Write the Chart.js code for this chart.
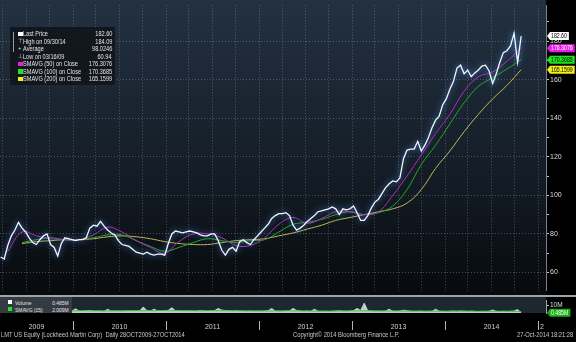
<!DOCTYPE html>
<html>
<head>
<meta charset="utf-8">
<script src="https://cdn.jsdelivr.net/npm/chart.js@4.4.1/dist/chart.umd.min.js"></script>
<style>
html, body { margin: 0; padding: 0; background: #000; }
body { width: 576px; height: 342px; position: relative; overflow: hidden;
  font-family: "Liberation Sans", Arial, sans-serif; color: #d8d8d8; }
#panel { position: absolute; left: 0; top: 0; width: 546px; height: 296px;
  background: linear-gradient(#233141, #151e28 55%, #070a0d); }
#volpanel { position: absolute; left: 0; top: 297px; width: 546px; height: 16px; background: #1d2730; }
#sep { position: absolute; left: 0; top: 295px; width: 576px; height: 2px; background: #9ea4aa; }
canvas { position: absolute; left: 0; }
#main { top: 0; }
#vol { top: 296px; }
.legend { position: absolute; background: rgba(17, 21, 27, 0.92); font-size: 7px; color: #e4e4e4; }
#leg { left: 10px; top: 27px; width: 105px; height: 58px; }
#vleg { left: 0; top: 297px; width: 72px; height: 16px; background: #353b42; font-size: 6.2px; }
.row { position: absolute; left: 0; width: 100%; height: 7.5px; line-height: 7.5px; white-space: nowrap; }
.row .k { position: absolute; left: 13px; display: inline-block; transform: scaleX(0.8); transform-origin: left center; }
.row .v { position: absolute; right: 3px; display: inline-block; transform: scaleX(0.8); transform-origin: right center; }
.sw { position: absolute; left: 8px; top: 1.5px; width: 4.5px; height: 4.5px; }
.ic { position: absolute; left: 8px; top: 0; font-size: 6px; color: #cfcfcf; }
.tree { position: absolute; left: 3px; top: 5px; width: 1px; height: 20px; background: #9a9a9a; }
#vleg .row .k { left: 15px; }
#vleg .sw { left: 8px; width: 4px; height: 4px; }
.foot { position: absolute; top: 331px; font-size: 6.5px; line-height: 8px; color: #c8c8c8; white-space: nowrap;
  transform: scaleX(0.89); transform-origin: left center; }
</style>
</head>
<body>
<div id="panel"></div>
<div id="volpanel"></div>
<div id="sep"></div>
<canvas id="main" width="576" height="296"></canvas>
<canvas id="vol" width="576" height="46"></canvas>

<div id="leg" class="legend">
  <div class="tree"></div>
  <div class="row" style="top:3.2px"><span class="sw" style="background:#ffffff"></span><span class="k">Last Price</span><span class="v" id="v-last"></span></div>
  <div class="row" style="top:10.7px"><span class="ic">&#8868;</span><span class="k">High on 09/30/14</span><span class="v" id="v-high"></span></div>
  <div class="row" style="top:18.2px"><span class="ic">+</span><span class="k">Average</span><span class="v" id="v-avg"></span></div>
  <div class="row" style="top:25.7px"><span class="ic">&#8869;</span><span class="k">Low on 03/16/09</span><span class="v" id="v-low"></span></div>
  <div class="row" style="top:33.2px"><span class="sw" style="background:#e61ee6"></span><span class="k">SMAVG (50) on Close</span><span class="v" id="v-ma50"></span></div>
  <div class="row" style="top:40.7px"><span class="sw" style="background:#1ee61e"></span><span class="k">SMAVG (100) on Close</span><span class="v" id="v-ma100"></span></div>
  <div class="row" style="top:48.2px"><span class="sw" style="background:#f0f01e"></span><span class="k">SMAVG (200) on Close</span><span class="v" id="v-ma200"></span></div>
</div>

<div id="vleg" class="legend">
  <div class="row" style="top:1.5px"><span class="sw" style="background:#ffffff"></span><span class="k">Volume</span><span class="v" id="v-vol"></span></div>
  <div class="row" style="top:8.5px"><span class="sw" style="background:#1ee61e"></span><span class="k">SMAVG (15)</span><span class="v" id="v-volma"></span></div>
</div>

<div class="foot" style="left:1px">LMT US Equity (Lockheed Martin Corp)&nbsp;&nbsp;Daily 28OCT2009-27OCT2014</div>
<div class="foot" style="left:293px">Copyright&copy; 2014 Bloomberg Finance L.P.</div>
<div class="foot" style="left:517px">27-Oct-2014 18:21:28</div>

<script>
// closes every two weeks, counting back from 27 Oct 2014
const price = [
  68, 67, 74, 79, 82, 86, 83, 81, 78, 75.5,
  74.5, 77, 79, 80, 74.5, 73, 68.5, 75, 78, 77.5,
  77, 76.5, 77, 77, 78, 83, 84.5, 84, 86.5, 84,
  82, 80.5, 79.5, 76.5, 74.5, 74, 73.5, 72, 70.5, 70,
  69.5, 70.5, 69.5, 69, 69.5, 69.5, 69, 75, 80, 81.5,
  81, 80.5, 81, 81.5, 81, 80.5, 79.5, 79, 79, 80,
  80, 76.5, 71.5, 69, 72, 73, 71, 76, 77, 75.5,
  74.5, 77, 79, 81, 83, 85, 88, 89.5, 90.5, 90.5,
  91, 89.5, 84.5, 82, 83, 84.5, 86.5, 88, 89.5, 91.5,
  92, 92.5, 93, 94, 93, 90, 93, 92.5, 93, 94.5,
  91, 87, 87, 89.5, 93.5, 96.5, 98, 101, 104, 106,
  107.5, 107, 109, 119, 123.5, 124, 124, 128, 123, 126,
  130, 135, 139, 141, 147, 150, 155, 159, 166, 167.5,
  163, 165, 161.5, 163.5, 165, 167, 167.5, 164.5, 158, 163,
  169, 174, 175, 177.5, 184.09, 169, 182.60
];

// moving averages, one reading every 8 weeks (from the 3rd close on)
const ma50 = [
  71, 81, 79, 77.5, 77, 77, 79.5, 83.5, 81, 76.5,
  73, 70, 76, 80, 80, 78, 74, 74, 78, 85,
  88.5, 85.5, 88, 91.5, 91.5, 90, 91.5, 100, 110, 121,
  132, 142, 154, 161.5, 164, 169.5, 176.3076
];
const ma100 = [
  null, 75.5, 77, 78, 77, 77, 78, 79.5, 79.5, 76.5,
  73.5, 71, 73, 75.5, 77.5, 76.5, 75.5, 76.5, 77, 81,
  85, 86, 87.5, 90, 91.5, 90, 91, 94.5, 103, 116,
  126, 137, 148, 156.5, 161, 165.5, 170.3685
];
const ma200 = [
  null, 75, 76, 76.5, 77, 77, 77.5, 78.5, 79, 78.5,
  77.5, 76, 75, 74.5, 74.5, 75.5, 76.5, 77, 77.5, 79,
  80.5, 82.5, 84.5, 87, 88.5, 90, 91.5, 93, 96, 103,
  114, 123, 133, 142, 150, 157, 165.1599
];

// volume in millions, same two-week steps as the closes
const volume = [
  3.5, 3.2, 2.8, 3.0, 2.6, 2.9, 2.7, 3.1, 2.6, 2.8,
  2.5, 2.9, 2.6, 2.4, 3.0, 2.7, 3.3, 2.5, 2.6, 2.4,
  2.8, 5.5, 2.6, 2.5, 2.9, 3.4, 2.6, 2.5, 2.7, 2.4,
  4.8, 2.6, 2.5, 2.8, 2.4, 2.6, 2.9, 2.5, 2.7, 3.0,
  8.0, 3.2, 2.7, 5.0, 2.8, 2.6, 3.1, 3.6, 7.0, 3.0,
  2.8, 2.6, 2.7, 2.9, 2.5, 2.6, 3.4, 2.7, 2.5, 2.8,
  3.2, 6.0, 3.8, 3.3, 2.9, 2.7, 3.0, 2.6, 2.5, 2.4,
  2.6, 2.3, 2.5, 2.4, 2.7, 3.1, 6.0, 2.6, 2.4, 2.3,
  2.5, 2.8, 6.0, 3.4, 2.6, 2.4, 2.5, 2.3, 5.0, 2.4,
  2.2, 2.3, 2.1, 2.4, 2.6, 2.9, 2.5, 2.3, 2.6, 3.2,
  6.0, 3.4, 13.0, 3.0, 2.6, 2.4, 2.5, 2.3, 2.6, 5.0,
  2.4, 2.2, 2.5, 3.8, 2.9, 2.4, 2.2, 2.3, 2.5, 2.1,
  2.3, 2.2, 5.0, 2.4, 2.2, 2.1, 2.4, 2.6, 2.3, 2.7,
  2.4, 2.2, 2.5, 2.1, 2.0, 2.2, 2.1, 2.3, 4.0, 2.2,
  2.0, 2.3, 2.1, 2.4, 2.6, 4.5, 0.485
];
const volumeMa = [
  2.9, 2.8, 2.8, 2.7, 2.8, 2.9, 2.8, 2.7, 2.8, 2.9,
  3.0, 3.1, 3.0, 2.8, 2.9, 3.0, 2.8, 2.7, 2.6, 2.7,
  2.8, 2.6, 2.4, 2.5, 2.7, 2.9, 2.6, 2.7, 2.5, 2.4,
  2.4, 2.3, 2.4, 2.2, 2.3, 2.2, 2.009
];

const priceTicks = [60, 70, 80, 90, 100, 110, 120, 130, 140, 150, 160, 170, 180, 190];
const years = [2009, 2010, 2011, 2012, 2013, 2014, 2015];
const yearLabels = ['2009', '2010', '2011', '2012', '2013', '2014', '2'];
const priceAverage = 98.0246;
const priceLow = 60.94;

const DAY = 864e5;
const firstClose = Date.UTC(2009, 2, 23);
const X_MIN = 2009.215, X_MAX = 2015.086;

function toYear(ms) {
  const y = new Date(ms).getUTCFullYear();
  const a = Date.UTC(y, 0, 1), b = Date.UTC(y + 1, 0, 1);
  return y + (ms - a) / (b - a);
}

const priceX = price.map((_, i) => toYear(firstClose + i * 14 * DAY));
const maX = ma50.map((_, k) => priceX[2 + 4 * k]);
const pts = (xs, ys) => ys.map((y, i) => ({ x: xs[i], y: y }));

// quarter grid and year label positions
const quarterTicks = [];
years.forEach(y => [0, 3, 6, 9].forEach(m => {
  const t = toYear(Date.UTC(y, m, 1));
  if (t > X_MIN && t < X_MAX) quarterTicks.push(t);
}));
const yearCenters = years.map(y => (Math.max(y, X_MIN) + Math.min(y + 1, X_MAX)) / 2);

const last = a => a[a.length - 1];
document.getElementById('v-last').innerText = last(price).toFixed(2);
document.getElementById('v-high').innerText = Math.max(...price).toFixed(2);
document.getElementById('v-avg').innerText = priceAverage.toFixed(4);
document.getElementById('v-low').innerText = priceLow.toFixed(2);
document.getElementById('v-ma50').innerText = last(ma50).toFixed(4);
document.getElementById('v-ma100').innerText = last(ma100).toFixed(4);
document.getElementById('v-ma200').innerText = last(ma200).toFixed(4);
document.getElementById('v-vol').innerText = last(volume).toFixed(3) + 'M';
document.getElementById('v-volma').innerText = last(volumeMa).toFixed(3) + 'M';

Chart.defaults.font.family = '"Liberation Sans", Arial, sans-serif';
const gridColor = 'rgba(150, 162, 175, 0.42)';

// blue halo around the price line
const glow = {
  id: 'glow',
  beforeDatasetDraw(chart, args) {
    if (args.index !== 0 || chart.canvas.id !== 'main') return;
    chart.ctx.save();
    chart.ctx.shadowColor = 'rgba(85, 150, 240, 1)';
    chart.ctx.shadowBlur = 6;
  },
  afterDatasetDraw(chart, args) {
    if (args.index !== 0 || chart.canvas.id !== 'main') return;
    chart.ctx.restore();
  }
};

// value flags on the right axis, text squeezed like the terminal font
const SQUEEZE = 0.8;
function drawTag(ctx, x, y, text, bg, fg) {
  ctx.font = '6.5px ' + Chart.defaults.font.family;
  const w = ctx.measureText(text).width * SQUEEZE + 3;
  ctx.fillStyle = bg;
  ctx.beginPath();
  ctx.moveTo(x, y);
  ctx.lineTo(x + 3, y - 4);
  ctx.lineTo(x + 3 + w, y - 4);
  ctx.lineTo(x + 3 + w, y + 4);
  ctx.lineTo(x + 3, y + 4);
  ctx.closePath();
  ctx.fill();
  ctx.save();
  ctx.translate(x + 4, y + 0.4);
  ctx.scale(SQUEEZE, 1);
  ctx.fillStyle = fg;
  ctx.textBaseline = 'middle';
  ctx.textAlign = 'left';
  ctx.fillText(text, 0, 0);
  ctx.restore();
}

const priceFlags = {
  id: 'priceFlags',
  afterDraw(chart) {
    const ys = chart.scales.y, ctx = chart.ctx, x0 = chart.chartArea.right + 1;
    ctx.save();
    drawTag(ctx, x0, ys.getPixelForValue(last(ma200)), last(ma200).toFixed(4), '#f0f01e', '#000');
    drawTag(ctx, x0, ys.getPixelForValue(last(ma100)), last(ma100).toFixed(4), '#1ee61e', '#000');
    drawTag(ctx, x0, ys.getPixelForValue(last(ma50)), last(ma50).toFixed(4), '#e61ee6', '#fff');
    drawTag(ctx, x0, ys.getPixelForValue(last(price)), last(price).toFixed(2), '#ffffff', '#000');
    ctx.restore();
  }
};

const volFlags = {
  id: 'volFlags',
  afterDraw(chart) {
    const ctx = chart.ctx, xs = chart.scales.x, ys = chart.scales.y;
    ctx.save();
    drawTag(ctx, chart.chartArea.right + 1, ys.getPixelForValue(last(volume)), last(volume).toFixed(3) + 'M', '#19b019', '#fff');
    // year separators under the panels
    ctx.strokeStyle = '#b4b4b4';
    ctx.lineWidth = 1;
    years.slice(1).forEach(y => {
      const px = Math.round(xs.getPixelForValue(y)) + 0.5;
      ctx.beginPath();
      ctx.moveTo(px, 25);
      ctx.lineTo(px, 34);
      ctx.stroke();
    });
    ctx.restore();
  }
};

new Chart(document.getElementById('main'), {
  type: 'line',
  data: {
    datasets: [
      { label: 'Last Price', data: pts(priceX, price), borderColor: '#f2f7ff', borderWidth: 1.3, pointRadius: 0, tension: 0 },
      { label: 'SMAVG (50) on Close', data: pts(maX, ma50), borderColor: '#b02cc0', borderWidth: 1, pointRadius: 0, tension: 0.4 },
      { label: 'SMAVG (100) on Close', data: pts(maX, ma100), borderColor: '#26a626', borderWidth: 1, pointRadius: 0, tension: 0.4 },
      { label: 'SMAVG (200) on Close', data: pts(maX, ma200), borderColor: '#bdb75a', borderWidth: 1, pointRadius: 0, tension: 0.4 }
    ]
  },
  options: {
    responsive: false,
    animation: false,
    layout: { padding: 0 },
    plugins: { legend: { display: false }, tooltip: { enabled: false } },
    scales: {
      x: {
        type: 'linear', min: X_MIN, max: X_MAX,
        afterBuildTicks(s) { s.ticks = quarterTicks.map(v => ({ value: v })); },
        ticks: { display: false },
        grid: { color: gridColor, drawTicks: false },
        border: { display: false, dash: [1, 2] }
      },
      y: {
        position: 'right', min: 50.5, max: 198.6,
        afterFit(s) { s.width = 30; },
        afterBuildTicks(s) { s.ticks = priceTicks.map(v => ({ value: v })); },
        ticks: { color: '#dedede', font: { size: 7 }, padding: 1, callback: v => (v % 20 === 0 ? String(v) : '') },
        grid: {
          color: c => (c.tick && c.tick.value % 20 === 0 ? gridColor : 'transparent'),
          tickColor: '#c4c4c4', tickLength: 3
        },
        border: { display: true, color: '#7a8088', dash: [1, 2] }
      }
    }
  },
  plugins: [glow, priceFlags]
});

new Chart(document.getElementById('vol'), {
  type: 'line',
  data: {
    datasets: [
      { label: 'SMAVG (15)', data: pts(maX, volumeMa), borderColor: '#2ccf2c', borderWidth: 1, pointRadius: 0, tension: 0.4 },
      { label: 'Volume', data: pts(priceX, volume), borderColor: '#dfe6ea', backgroundColor: 'rgba(225, 232, 236, 0.85)', borderWidth: 0.8, pointRadius: 0, tension: 0, fill: 'origin' }
    ]
  },
  options: {
    responsive: false,
    animation: false,
    layout: { padding: { top: 1 } },
    plugins: { legend: { display: false }, tooltip: { enabled: false } },
    scales: {
      x: {
        type: 'linear', min: X_MIN, max: X_MAX,
        afterBuildTicks(s) { s.ticks = yearCenters.map(v => ({ value: v })); },
        afterFit(s) { s.height = 29; },
        ticks: { color: '#d2d2d2', font: { size: 7 }, padding: 10, maxRotation: 0, autoSkip: false,
          callback: (v, i) => yearLabels[i] },
        grid: { display: false, drawTicks: false },
        border: { display: false }
      },
      y: {
        position: 'right', min: 0, max: 16,
        afterFit(s) { s.width = 30; },
        afterBuildTicks(s) { s.ticks = [{ value: 10 }]; },
        ticks: { color: '#dedede', font: { size: 6.5 }, padding: 1, callback: v => v + 'M' },
        grid: { drawOnChartArea: false, tickColor: '#c4c4c4', tickLength: 3 },
        border: { display: true, color: '#9ea4aa' }
      }
    }
  },
  plugins: [volFlags]
});
</script>
</body>
</html>
